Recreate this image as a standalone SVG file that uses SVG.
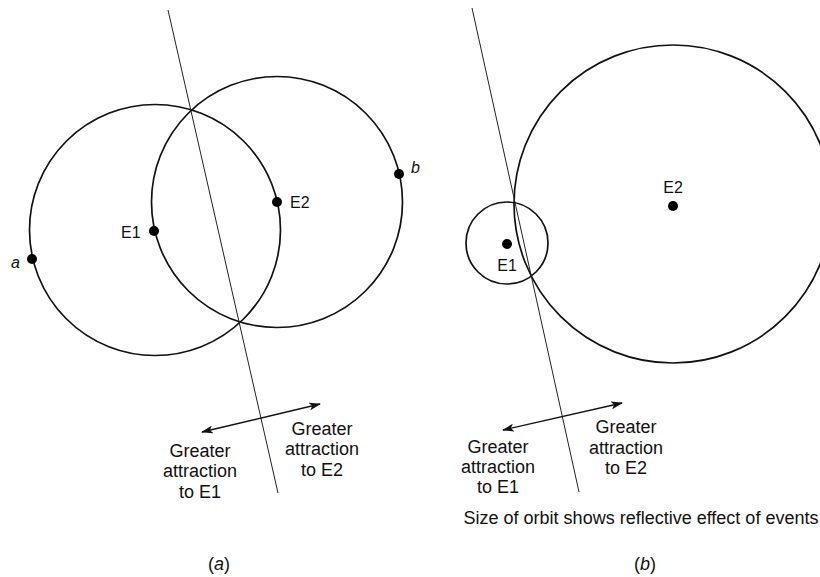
<svg xmlns="http://www.w3.org/2000/svg" width="820" height="577" viewBox="0 0 820 577">
<style>
  .orbit { fill: none; stroke: #111; stroke-width: 1.7; }
  .divide { fill: none; stroke: #222; stroke-width: 1; }
  .arrow { fill: none; stroke: #111; stroke-width: 1.4; marker-start: url(#ah); marker-end: url(#ah); }
  .dot { fill: #000; }
  text { font-family: "Liberation Sans", Arial, sans-serif; fill: #111; }
  .lbl { font-size: 16px; }
  .big { font-size: 18px; text-anchor: middle; }
  .it { font-style: italic; font-size: 16px; }
</style>
<defs>
  <marker id="ah" viewBox="0 0 12 8" refX="11" refY="4" markerWidth="12" markerHeight="8" markerUnits="userSpaceOnUse" orient="auto-start-reverse">
    <path d="M0,0 L12,4 L0,8 L3,4 Z" fill="#111"/>
  </marker>
</defs>

<g id="panel-a">
  <g id="orbit-E1-a"><circle class="orbit" cx="155" cy="230" r="125.5"/></g>
  <g id="orbit-E2-a"><circle class="orbit" cx="277" cy="202" r="125.5"/></g>
  <g id="node-E1-a"><circle class="dot" cx="154" cy="231" r="5"/><text class="lbl" x="121" y="238">E1</text></g>
  <g id="node-E2-a"><circle class="dot" cx="277" cy="202" r="5"/><text class="lbl" x="290" y="208">E2</text></g>
  <g id="node-a"><circle class="dot" cx="32" cy="259" r="5"/><text class="it" x="11" y="268">a</text></g>
  <g id="node-b"><circle class="dot" cx="399" cy="174" r="5"/><text class="it" x="411" y="173">b</text></g>
  <g id="text-a-left"><text class="big" x="200"><tspan x="200" y="457">Greater</tspan><tspan x="200" y="477">attraction</tspan><tspan x="200" y="498">to E1</tspan></text></g>
  <g id="text-a-right"><text class="big" x="322"><tspan x="322" y="435">Greater</tspan><tspan x="322" y="455">attraction</tspan><tspan x="322" y="476">to E2</tspan></text></g>
  <text class="big" x="219" y="570">(<tspan font-style="italic">a</tspan>)</text>
</g>

<g id="panel-b">
  <g id="orbit-E2-b"><circle class="orbit" cx="673" cy="204" r="159"/></g>
  <g id="orbit-E1-b"><circle class="orbit" cx="507" cy="243" r="41"/></g>
  <g id="node-E1-b"><circle class="dot" cx="507" cy="244" r="5"/><text class="lbl" x="507" y="271" text-anchor="middle">E1</text></g>
  <g id="node-E2-b"><circle class="dot" cx="673" cy="206" r="5"/><text class="lbl" x="673" y="193" text-anchor="middle">E2</text></g>
  <g id="text-b-left"><text class="big"><tspan x="498" y="453">Greater</tspan><tspan x="498" y="473">attraction</tspan><tspan x="498" y="493">to E1</tspan></text></g>
  <g id="text-b-right"><text class="big"><tspan x="626" y="433">Greater</tspan><tspan x="626" y="454">attraction</tspan><tspan x="626" y="474">to E2</tspan></text></g>
  <text class="big" x="641" y="524">Size of orbit shows reflective effect of events</text>
  <text class="big" x="645" y="570">(<tspan font-style="italic">b</tspan>)</text>
</g>

<g id="connectors">
  <line class="divide" x1="168" y1="10" x2="278" y2="493"/>
  <line class="divide" x1="472" y1="8" x2="579" y2="492"/>
  <line class="arrow" x1="202" y1="432" x2="320" y2="404"/>
  <line class="arrow" x1="503" y1="430" x2="622" y2="403"/>
</g>
</svg>
